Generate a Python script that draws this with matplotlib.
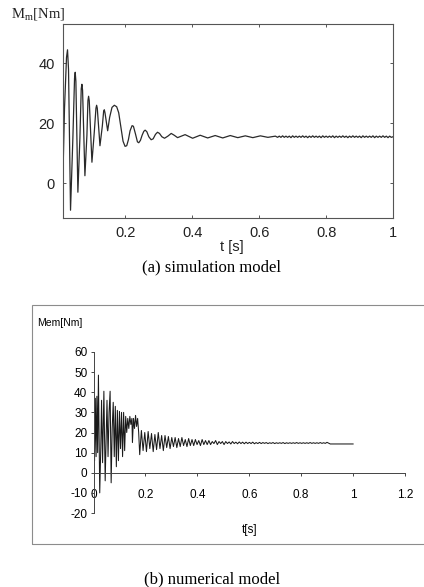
import numpy as np
import matplotlib
matplotlib.use("Agg")
import matplotlib.pyplot as plt
from matplotlib.patches import Rectangle
from matplotlib.ticker import FuncFormatter

plt.rcParams['axes.unicode_minus'] = False

# (a) simulation model: torque peaks/troughs
SIM_T = [0.0135, 0.018, 0.024, 0.027, 0.030, 0.036, 0.043, 0.048, 0.050, 0.052,
         0.058, 0.064, 0.068, 0.070, 0.072, 0.079, 0.085, 0.088, 0.090, 0.092,
         0.100, 0.107, 0.112, 0.114, 0.116, 0.124, 0.131, 0.135, 0.137, 0.139,
         0.147, 0.153, 0.160, 0.167, 0.174, 0.180, 0.186, 0.193, 0.199, 0.204,
         0.209, 0.214, 0.220, 0.224, 0.230, 0.236, 0.240, 0.245, 0.250, 0.255,
         0.259, 0.264, 0.270, 0.277, 0.283, 0.290, 0.296, 0.302, 0.309, 0.317,
         0.327, 0.337, 0.346, 0.356,
         0.3785, 0.401, 0.4235, 0.446, 0.4685, 0.491, 0.5135, 0.536, 0.5585, 0.581,
         0.6035, 0.626, 0.6485]
SIM_M = [3, 25, 42, 44.5, 38, -9, 15, 35, 37, 34,
         -3, 15, 31.5, 33, 31, 2.5, 16, 27.5, 29, 27.5,
         7, 17, 25, 26, 25, 12.5, 19, 24, 24.5, 23.5,
         17.5, 22, 25.3, 26, 25.5, 23.5, 19, 14, 12.3, 12.5,
         14.5, 17.5, 19.2, 19, 16.5, 13.8, 13.5, 14.3, 16, 17.3,
         17.7, 17.2, 15.5, 14.5, 14.8, 16.3, 17, 16.6, 15.5, 15.0,
         15.7, 16.6, 16, 15.2,
         16.2, 15.0, 16.0, 15.1, 15.9, 15.1, 15.9, 15.2, 15.8, 15.2,
         15.8, 15.3, 15.7]
# fine ripple at the end, sampled every 5 ms from t = 0.655 s
SIM_RIPPLE_T0 = 0.655
SIM_RIPPLE_DT = 0.005
SIM_RIPPLE_M = [15.3, 15.7, 15.3, 15.8, 15.3, 15.7, 15.3, 15.7, 15.2, 15.8,
                15.3, 15.7, 15.3, 15.7, 15.3, 15.8, 15.3, 15.7, 15.2, 15.7,
                15.3, 15.8, 15.3, 15.7, 15.3, 15.7, 15.2, 15.8, 15.3, 15.7,
                15.3, 15.7, 15.3, 15.8, 15.2, 15.7, 15.3, 15.7, 15.3, 15.8,
                15.3, 15.7, 15.2, 15.7, 15.3, 15.8, 15.3, 15.7, 15.3, 15.7,
                15.2, 15.8, 15.3, 15.7, 15.3, 15.7, 15.3, 15.8, 15.2, 15.7,
                15.3, 15.7, 15.3, 15.8, 15.3, 15.7, 15.2, 15.7, 15.3, 15.5]

# (b) numerical model
NUM_T = [0.000, 0.002, 0.004, 0.007, 0.010, 0.013, 0.016, 0.019, 0.024, 0.028,
         0.031, 0.035, 0.040, 0.045, 0.049, 0.052, 0.056, 0.060, 0.064, 0.068,
         0.072, 0.076, 0.080, 0.084, 0.088, 0.092, 0.096, 0.100, 0.104, 0.108,
         0.112, 0.116, 0.120, 0.124, 0.128, 0.132, 0.136, 0.140, 0.144, 0.148,
         0.150, 0.154, 0.158, 0.162, 0.166, 0.170, 0.174, 0.178]
NUM_M = [0, 14, 6, 37, 8, 38, 10, 48.5, -10, 12,
         36, 5, 40.5, -4, 20, 36, 8, 30, 40.5, -5,
         22, 35, 8, 33, 3, 31, 6, 30.5, 12, 30,
         8, 30, 11, 28, 20, 27, 22, 28, 24, 27,
         15, 27, 22, 28.5, 23, 27, 20, 9]
# decaying oscillation, peaks and troughs every 6.5 ms from t = 0.1845 s
NUM_TAIL_T0 = 0.1845
NUM_TAIL_DT = 0.0065
NUM_TAIL_M = [21, 11, 20, 10.5, 20.5, 12, 19.5, 10.5, 19, 11.5,
              20, 12, 18.5, 11, 18.5, 12.5, 18, 12, 17.5, 13,
              17.5, 12.5, 17, 13, 17.5, 13.5, 16.5, 13, 17, 13.5,
              16.5, 13.5, 16.5, 14, 16, 13.5, 16.5, 14, 16, 14,
              16, 14, 15.5, 14.5, 16, 14, 15.5, 14.5, 15.5, 14,
              15.5, 14.5, 15.3, 14.3, 15.5, 14.5, 15.2, 14.4, 15.3, 14.5,
              15.2, 14.4, 15.2, 14.5, 15.1, 14.5, 15.2, 14.4, 15.0, 14.5,
              15.1, 14.5, 15.0, 14.6, 15.0, 14.5, 14.9, 14.6, 15.0, 14.5,
              14.9, 14.6, 14.9, 14.6, 15.0, 14.5, 14.9, 14.6, 14.9, 14.6,
              14.9, 14.6, 15.0, 14.6, 14.9, 14.6, 14.9, 14.6, 14.9, 14.6,
              15.0, 14.6, 14.9, 14.6, 14.9, 14.6, 15.0, 14.6, 14.9, 14.6,
              15.1, 14.7]
NUM_END_T = [0.912, 1.0]
NUM_END_M = [14.3, 14.3]

SIM_XTICKS = [0.2, 0.4, 0.6, 0.8, 1.0]
SIM_YTICKS = [0, 20, 40]
NUM_XTICKS = [0, 0.2, 0.4, 0.6, 0.8, 1.0, 1.2]
NUM_YTICKS = [-20, -10, 0, 10, 20, 30, 40, 50, 60]

W, H = 424, 587


def box(x0, y0, x1, y1):
    # pixel box (top-left origin) -> figure fraction rect
    return [x0 / W, 1 - y1 / H, (x1 - x0) / W, (y1 - y0) / H]


def fmt_g(v, pos):
    return '%g' % v


fig = plt.figure(figsize=(W / 100, H / 100), dpi=100)
fig.patch.set_facecolor('white')

# ---- (a) simulation model ----
ax1 = fig.add_axes(box(63, 24, 393, 218))
sim_t = np.concatenate([SIM_T, SIM_RIPPLE_T0 + SIM_RIPPLE_DT * np.arange(len(SIM_RIPPLE_M))])
sim_m = np.concatenate([SIM_M, SIM_RIPPLE_M])
ax1.plot(sim_t, sim_m, color='#2a2a2a', lw=0.9)
ax1.set_xlim(0.0135, 1.0)
ax1.set_ylim(-11.6, 53.1)
ax1.set_xticks(SIM_XTICKS)
ax1.set_yticks(SIM_YTICKS)
ax1.xaxis.set_major_formatter(FuncFormatter(fmt_g))
ax1.tick_params(direction='in', length=2.5, width=0.7, color='#555555',
                top=True, right=True, pad=6, labelsize=10.5, labelcolor='#222222')
for lab in ax1.get_xticklabels() + ax1.get_yticklabels():
    lab.set_family('Liberation Sans')
for sp in ax1.spines.values():
    sp.set_color('#555555')
    sp.set_linewidth(0.8)
fig.text(11 / W, 1 - 15 / H, r'M$_\mathregular{m}$[Nm]', family='Liberation Serif',
         fontsize=10.5, ha='left', va='center', color='#222222')
fig.text(232 / W, 1 - 247 / H, 't [s]', family='Liberation Sans', fontsize=10.5,
         ha='center', va='center', color='#222222')
fig.text(212 / W, 1 - 267 / H, '(a) simulation model', family='Liberation Serif',
         fontsize=12, ha='center', va='center')

# ---- (b) numerical model ----
fig.add_artist(Rectangle((32 / W, 1 - 544 / H), 1.2, 239 / H, transform=fig.transFigure,
                         fill=False, edgecolor='#8c8c8c', lw=0.8))
ax2 = fig.add_axes(box(93.5, 352, 405, 513))
num_t = np.concatenate([NUM_T, NUM_TAIL_T0 + NUM_TAIL_DT * np.arange(len(NUM_TAIL_M)), NUM_END_T])
num_m = np.concatenate([NUM_M, NUM_TAIL_M, NUM_END_M])
ax2.plot(num_t, num_m, color='#1a1a1a', lw=0.75)
ax2.set_xlim(0, 1.2)
ax2.set_ylim(-20, 60)
ax2.set_xticks(NUM_XTICKS)
ax2.set_yticks(NUM_YTICKS)
ax2.xaxis.set_major_formatter(FuncFormatter(fmt_g))
ax2.spines['top'].set_visible(False)
ax2.spines['right'].set_visible(False)
ax2.spines['bottom'].set_position(('data', 0))
for sp in ('left', 'bottom'):
    ax2.spines[sp].set_color('#444444')
    ax2.spines[sp].set_linewidth(0.7)
ax2.tick_params(axis='y', direction='out', length=2.5, width=0.7, color='#444444',
                pad=2, labelsize=8.5)
ax2.tick_params(axis='x', direction='out', length=2.5, width=0.7, color='#444444',
                pad=9.4, labelsize=8.5)
for lab in ax2.get_xticklabels() + ax2.get_yticklabels():
    lab.set_family('Liberation Sans')
fig.text(37 / W, 1 - 323 / H, 'Mem[Nm]', family='Liberation Sans', fontsize=7.5,
         ha='left', va='center')
fig.text(250 / W, 1 - 530 / H, 't[s]', family='Liberation Sans', fontsize=8.5,
         ha='center', va='center')
fig.text(212 / W, 1 - 579 / H, '(b) numerical model', family='Liberation Serif',
         fontsize=12, ha='center', va='center')

fig.savefig('out.png', dpi=100, facecolor='white')
